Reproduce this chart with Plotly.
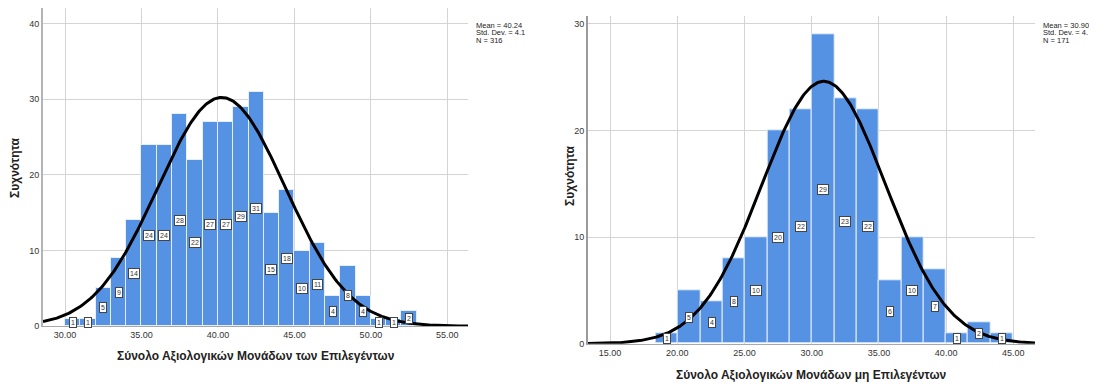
import numpy as np
import plotly.graph_objects as go

# ---- data: left histogram (selected) ----
left_bin_start = 30.0
left_bin_width = 1.0
left_counts = [1, 1, 5, 9, 14, 24, 24, 28, 22, 27, 27, 29, 31, 15, 18, 10, 11, 4, 8, 4, 1, 1, 2]
left_mean = 40.24
left_sd = 4.17
left_n = 316
left_xticks = [30, 35, 40, 45, 50, 55]
left_yticks = [0, 10, 20, 30, 40]

# ---- data: right histogram (not selected) ----
right_bin_start = 18.4
right_bin_width = 1.66
right_counts = [1, 5, 4, 8, 10, 20, 22, 29, 23, 22, 6, 10, 7, 1, 2, 1]
right_mean = 30.90
right_sd = 4.60
right_n = 171
right_xticks = [15, 20, 25, 30, 35, 40, 45]
right_yticks = [0, 10, 20, 30]

left_xtitle = "Σύνολο Αξιολογικών Μονάδων των Επιλεγέντων"
right_xtitle = "Σύνολο Αξιολογικών Μονάδων μη Επιλεγέντων"
ytitle = "Συχνότητα"

# page offset of the figure inside the window
OFFX, OFFY = 8, 4
W, H = 1097 - OFFX, 387 - OFFY
BAR = "#5592e3"
FONT = "Liberation Sans, Arial, sans-serif"

fig = go.Figure()

def Y(t):
    # window target -> internal vertical position (small render compensation)
    return (t - 2.73) / 0.9895

def px(x):
    return min(max((x - OFFX) / W, 0), 1)

def pyi(yi):
    return min(max((H - (yi - OFFY)) / H, 0), 1)

def py(t):
    return pyi(Y(t))

# left panel vertical geometry
l0, l40, ltop = Y(325.7), Y(22.3), max(Y(5), OFFY)
left_ytop = 40 * (l0 - ltop) / (l0 - l40)
# right panel vertical geometry
r0, r30, rtop = Y(343.3), Y(22.7), Y(15)
right_ytop = 30 * (r0 - rtop) / (r0 - r30)

panels = [
    dict(start=left_bin_start, w=left_bin_width, counts=left_counts, mean=left_mean, sd=left_sd,
         n=left_n, xr=[28.56, 56.35], yr=[0, left_ytop], xd=[px(43), px(468)], yd=[pyi(l0), pyi(ltop)],
         xticks=left_xticks, yticks=left_yticks, xa="x", ya="y", lc="#b4b4b4", lw=2),
    dict(start=right_bin_start, w=right_bin_width, counts=right_counts, mean=right_mean, sd=right_sd,
         n=right_n, xr=[13.34, 46.61], yr=[0, right_ytop], xd=[px(587.7), px(1035)], yd=[pyi(r0), pyi(rtop)],
         xticks=right_xticks, yticks=right_yticks, xa="x2", ya="y2", lc="#9a9a9a", lw=1.5),
]

annotations = []
for i, p in enumerate(panels):
    centers = [p["start"] + p["w"] * (k + 0.5) for k in range(len(p["counts"]))]
    fig.add_trace(go.Bar(x=centers, y=p["counts"], width=[p["w"]] * len(centers),
                         marker=dict(color=BAR, line=dict(color="#e6eefa", width=1)),
                         xaxis=p["xa"], yaxis=p["ya"], showlegend=False, hoverinfo="skip"))
    xs = np.linspace(p["xr"][0], p["xr"][1], 400)
    ys = p["n"] * p["w"] / (p["sd"] * np.sqrt(2 * np.pi)) * np.exp(-0.5 * ((xs - p["mean"]) / p["sd"]) ** 2)
    fig.add_trace(go.Scatter(x=xs, y=ys, mode="lines", line=dict(color="black", width=3),
                             xaxis=p["xa"], yaxis=p["ya"], showlegend=False, hoverinfo="skip"))
    for c, v in zip(centers, p["counts"]):
        annotations.append(dict(x=c, y=v / 2, xref=p["xa"], yref=p["ya"], text=str(v),
                                showarrow=False, font=dict(size=7, color="#333", family=FONT),
                                bgcolor="white", bordercolor="#444", borderwidth=1, borderpad=1))
    suffix = "" if i == 0 else "2"
    fig.update_layout(**{
        "xaxis" + suffix: dict(domain=p["xd"], range=p["xr"], anchor="y" + suffix,
                               tickvals=p["xticks"], ticktext=[f"{t:.2f}" for t in p["xticks"]],
                               showgrid=True, gridcolor="#d4d4d4", gridwidth=1, zeroline=False,
                               showline=True, linecolor="#a8a8a8", linewidth=1, ticks="",
                               tickfont=dict(size=9, color="#333", family=FONT)),
        "yaxis" + suffix: dict(domain=p["yd"], range=p["yr"], anchor="x" + suffix,
                               tickvals=p["yticks"], showgrid=True, gridcolor="#d4d4d4", gridwidth=1,
                               zeroline=False, showline=True, linecolor=p["lc"], linewidth=p["lw"],
                               ticks="", tickfont=dict(size=9, color="#333", family=FONT)),
    })

def txt(x, y, s, size=12, bold=True, angle=0, xanchor="center"):
    annotations.append(dict(x=px(x), y=py(y), xref="paper", yref="paper",
                            text=f"<b>{s}</b>" if bold else s, showarrow=False, textangle=angle,
                            xanchor=xanchor, yanchor="middle",
                            font=dict(size=size, color="#222", family=FONT)))

txt(256, 356, left_xtitle)
txt(811, 375, right_xtitle)
txt(15, 167, ytitle, angle=-90)
txt(570, 175, ytitle, angle=-90)

# stats text (clipped in the original)
txt(474, 24, f"Mean = {left_mean:.2f}", size=7.5, bold=False, xanchor="left")
txt(474, 31.7, "Std. Dev. = 4.1", size=7.5, bold=False, xanchor="left")
txt(474, 39.5, f"N = {left_n}", size=7.5, bold=False, xanchor="left")
txt(1041, 24, f"Mean = {right_mean:.2f}", size=7.5, bold=False, xanchor="left")
txt(1041, 31.7, "Std. Dev. = 4.", size=7.5, bold=False, xanchor="left")
txt(1041, 39.5, f"N = {right_n}", size=7.5, bold=False, xanchor="left")

fig.update_layout(width=W, height=H, margin=dict(l=0, r=0, t=0, b=0),
                  paper_bgcolor="white", plot_bgcolor="white", bargap=0,
                  annotations=annotations, font=dict(family=FONT))

fig.write_html("out.html")
